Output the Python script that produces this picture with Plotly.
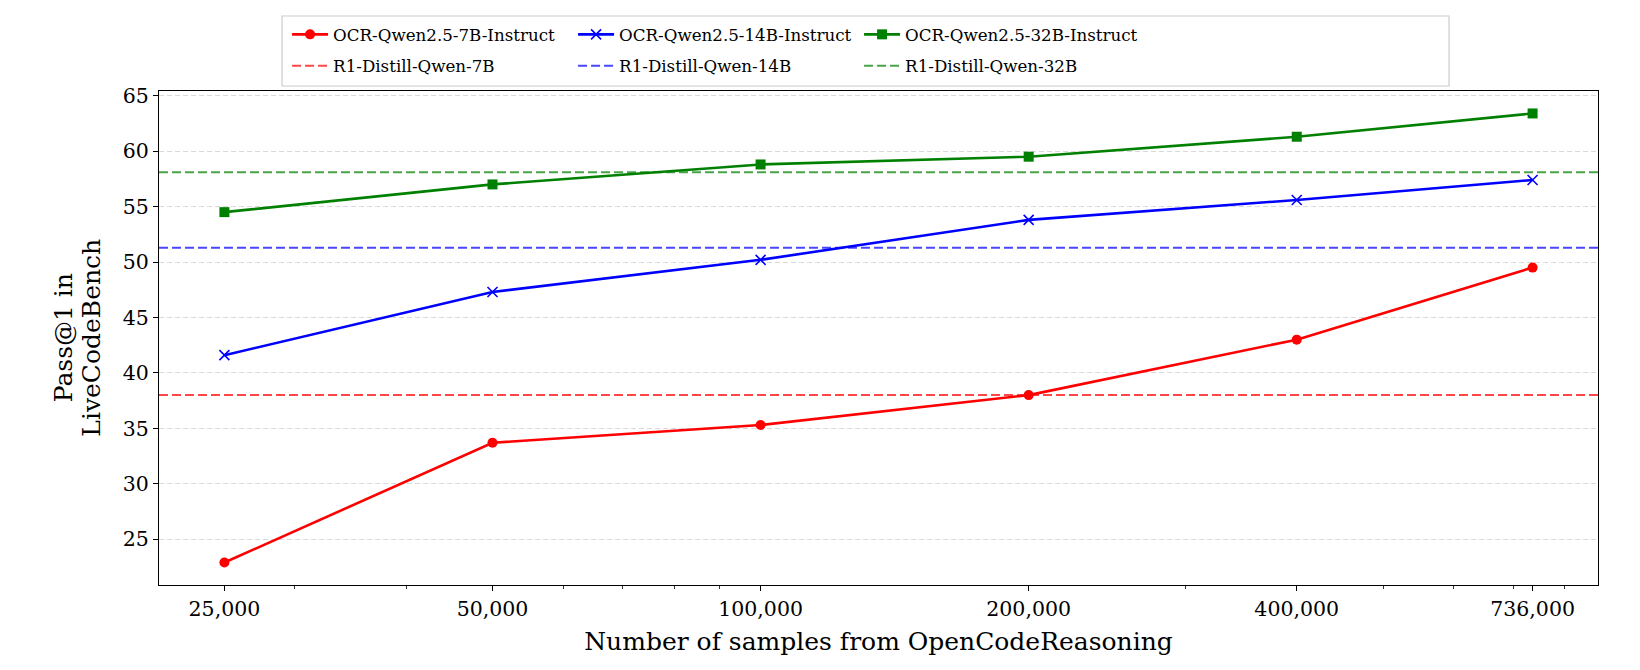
import plotly.graph_objects as go
import numpy as np

# ---- data ----
samples = [25000, 50000, 100000, 200000, 400000, 736000]
tick_labels = ["25,000", "50,000", "100,000", "200,000", "400,000", "736,000"]
ocr_7b = [22.9, 33.7, 35.3, 38.0, 43.0, 49.5]
ocr_14b = [41.6, 47.3, 50.2, 53.8, 55.6, 57.4]
ocr_32b = [54.5, 57.0, 58.8, 59.5, 61.3, 63.4]
r1_7b = 38.0
r1_14b = 51.3
r1_32b = 58.1
y_title_lines = ["Pass@1 in", "LiveCodeBench"]

FONT = "DejaVu Serif, serif"

fig = go.Figure()

series = [
    ("OCR-Qwen2.5-7B-Instruct", ocr_7b, "#ff0000", dict(symbol="circle", size=10, color="#ff0000")),
    ("OCR-Qwen2.5-14B-Instruct", ocr_14b, "#0000ff", dict(symbol="x-thin", size=10, color="#0000ff",
                                                        line=dict(width=1.6, color="#0000ff"))),
    ("OCR-Qwen2.5-32B-Instruct", ocr_32b, "#008000", dict(symbol="square", size=10, color="#008000")),
]
for name, vals, col, mk in series:
    fig.add_trace(go.Scatter(x=samples, y=vals, mode="lines+markers", name=name,
                             line=dict(color=col, width=2.6), marker=mk, legend="legend"))

baselines = [
    ("R1-Distill-Qwen-7B", r1_7b, "rgba(255,0,0,0.72)"),
    ("R1-Distill-Qwen-14B", r1_14b, "rgba(0,0,255,0.72)"),
    ("R1-Distill-Qwen-32B", r1_32b, "rgba(0,128,0,0.72)"),
]
for name, val, col in baselines:
    fig.add_shape(type="line", xref="x domain", yref="y", x0=0, x1=1, y0=val, y1=val,
                  line=dict(color=col, width=2, dash="9px,4px"), layer="above",
                  showlegend=True, name=name, legend="legend2")

# axis ranges with matplotlib-like 5% margins
lx = np.log10(samples)
xpad = (lx.max() - lx.min()) * 0.05
allv = ocr_7b + ocr_14b + ocr_32b + [r1_7b, r1_14b, r1_32b]
ypad = (max(allv) - min(allv)) * 0.05

minor_vals = [k * 10 ** e for e in (4, 5) for k in range(2, 10)
              if lx.min() - xpad < np.log10(k * 10 ** e) < lx.max() + xpad and k * 10 ** e not in samples]

fig.update_xaxes(type="log", range=[lx.min() - xpad, lx.max() + xpad],
                 tickmode="array", tickvals=samples, ticktext=tick_labels,
                 ticks="outside", ticklen=5, tickwidth=1.1, tickcolor="black",
                 showline=True, linecolor="black", linewidth=1.1, mirror=True,
                 showgrid=False, zeroline=False,
                 minor=dict(tickmode="array", tickvals=minor_vals, ticks="outside",
                            ticklen=3, tickwidth=0.9, tickcolor="#333", showgrid=False),
                 tickfont=dict(family=FONT, size=20.5, color="black"),
                 title=dict(text="Number of samples from OpenCodeReasoning",
                            font=dict(family=FONT, size=25, color="black"), standoff=12))
fig.update_yaxes(range=[min(allv) - ypad, max(allv) + ypad],
                 tickmode="linear", tick0=25, dtick=5,
                 ticks="outside", ticklen=5, tickwidth=1.1, tickcolor="black",
                 showline=True, linecolor="black", linewidth=1.1, mirror=True,
                 showgrid=True, gridcolor="#d9d9d9", gridwidth=1, griddash="5px,3px",
                 zeroline=False,
                 tickfont=dict(family=FONT, size=20.5, color="black"))

# y-axis title as two rotated lines (tight matplotlib-like line spacing)
for txt, xp in zip(y_title_lines, [-0.0665, -0.0475]):
    fig.add_annotation(text=txt, xref="paper", yref="paper", x=xp, y=0.5,
                       xanchor="center", yanchor="middle", textangle=-90, showarrow=False,
                       font=dict(family=FONT, size=25, color="black"))

# legend frame
fig.add_shape(type="rect", xref="paper", yref="paper", x0=0.0855, x1=0.8965, y0=1.0101, y1=1.1518,
              line=dict(color="#cccccc", width=1.2), fillcolor="rgba(255,255,255,0.8)", layer="below")

leg_common = dict(orientation="h", xanchor="left", yanchor="middle", x=0.089,
                  font=dict(family=FONT, size=16.7, color="black"),
                  bgcolor="rgba(0,0,0,0)", borderwidth=0, entrywidth=235, itemwidth=36)
fig.update_layout(
    width=1640, height=670,
    margin=dict(l=159, r=42, t=91, b=85),
    paper_bgcolor="white", plot_bgcolor="white",
    legend=dict(y=1.1144, **leg_common),
    legend2=dict(y=1.0506, **leg_common),
)

fig.write_html("out.html")
